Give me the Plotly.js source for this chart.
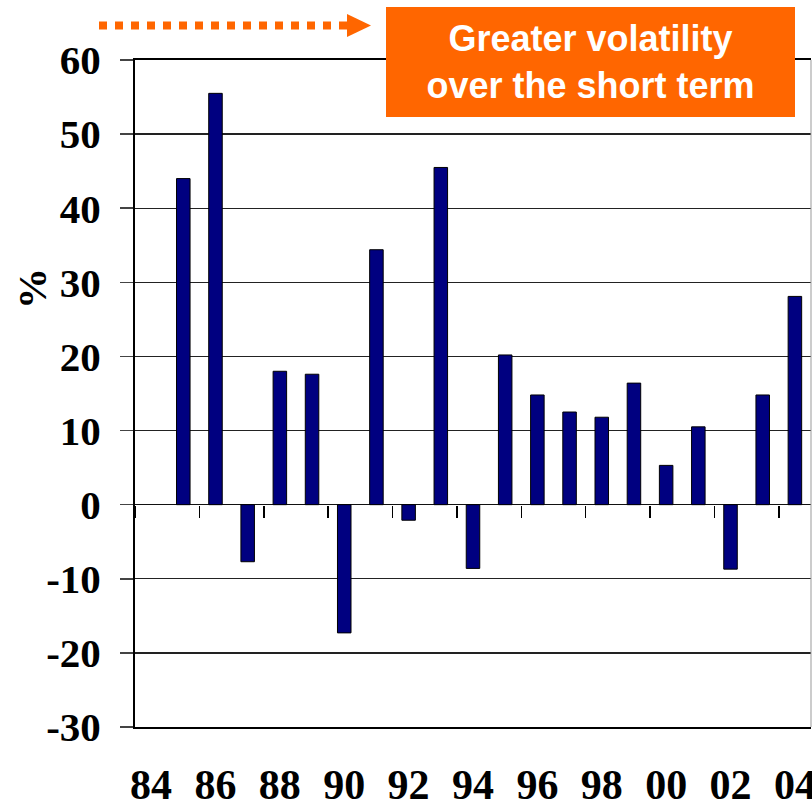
<!DOCTYPE html>
<html><head><meta charset="utf-8">
<script src="https://cdn.plot.ly/plotly-3.0.1.min.js"></script>
<style>html,body{margin:0;padding:0;background:#fff}#chart{width:812px;height:810px}</style>
</head><body><div id="chart"></div>
<script>
// ---- data ----
const years = [1984,1985,1986,1987,1988,1989,1990,1991,1992,1993,1994,1995,1996,1997,1998,1999,2000,2001,2002,2003,2004];
const returns = [null,44,55.5,-7.7,18,17.6,-17.3,34.4,-2.1,45.5,-8.6,20.2,14.8,12.5,11.8,16.4,5.3,10.5,-8.7,14.8,28.1];
const labelYears = [1984,1986,1988,1990,1992,1994,1996,1998,2000,2002,2004];
const labelText = ['84','86','88','90','92','94','96','98','00','02','04'];
const yTicks = [-30,-20,-10,0,10,20,30,40,50,60];
const yTickText = ['-30','-20','-10','0','10','20','30','40','50','60'];
const calloutText = 'Greater volatility<br>over the short term';
const yTitle = '%';

// ---- layout helpers (page pixels -> paper fraction) ----
const W = 812, H = 810, L = 135, R = 1, T = 60, B = 83;
const pw = W - L - R, ph = H - T - B;
const px = x => (x - L) / pw;
const py = y => (H - B - y) / ph;
const tickYears = labelYears.map(y => y - 0.5);
const xr = [years[0] - 0.5, years[years.length - 1] + 0.5];
const serif = {family: 'Liberation Serif, Times New Roman, serif', weight: 'bold', color: '#000'};
const orange = '#FF6600';

const traces = [
  {type: 'bar', x: years, y: returns, marker: {color: '#000080', line: {color: '#000', width: 1}}, hoverinfo: 'x+y'},
  {type: 'scatter', x: [years[0]], y: [null], xaxis: 'x2', mode: 'markers', showlegend: false, hoverinfo: 'skip'}
];

const layout = {
  width: W, height: H,
  margin: {l: L, r: R, t: T, b: B, pad: 0},
  paper_bgcolor: '#fff', plot_bgcolor: '#fff',
  showlegend: false,
  bargap: 0.58,
  xaxis: {
    range: xr, tickmode: 'array', tickvals: labelYears, ticktext: labelText,
    ticks: '', showgrid: false, zeroline: false,
    showline: true, mirror: true, linecolor: '#000', linewidth: 2,
    ticklabelstandoff: 20, ticklabeloverflow: 'allow',
    tickfont: Object.assign({size: 42}, serif)
  },
  xaxis2: {
    overlaying: 'x', anchor: 'free', position: 30 / 90, range: xr,
    tickmode: 'array', tickvals: tickYears, ticks: 'outside', ticklen: 12, tickwidth: 1.5, tickcolor: '#000',
    showticklabels: false, showline: false, showgrid: false, zeroline: false
  },
  yaxis: {
    range: [-30, 60], tickmode: 'array', tickvals: yTicks, ticktext: yTickText,
    showgrid: true, gridcolor: '#222', gridwidth: 1.3,
    zeroline: true, zerolinecolor: '#111', zerolinewidth: 1.5,
    showline: true, linecolor: '#000', linewidth: 2,
    ticks: 'outside', ticklen: 13, tickcolor: '#444', tickwidth: 1.5,
    ticklabelstandoff: 11,
    tickfont: Object.assign({size: 41}, serif)
  },
  shapes: [
    {type: 'line', xref: 'paper', yref: 'paper', x0: 1, x1: 1, y0: 0, y1: 1, line: {color: '#999', width: 1}},
    {type: 'line', xref: 'paper', yref: 'paper', x0: px(99), x1: px(347), y0: py(25.5), y1: py(25.5),
     line: {color: orange, width: 8, dash: '8px,8px'}},
    {type: 'path', xref: 'paper', yref: 'paper', fillcolor: orange, line: {width: 0},
     path: `M ${px(347)},${py(14)} L ${px(371)},${py(25.5)} L ${px(347)},${py(37)} Z`}
  ],
  annotations: [
    {xref: 'paper', yref: 'paper', x: px(590.5), y: py(62), xanchor: 'center', yanchor: 'middle',
     text: calloutText, showarrow: false, bgcolor: orange, borderpad: 0, borderwidth: 0,
     width: 409, height: 110, align: 'center',
     font: {family: 'Liberation Sans, Arial, sans-serif', size: 36, weight: 'bold', color: '#fff'}},
    {xref: 'paper', yref: 'paper', x: px(32), y: py(289), xanchor: 'center', yanchor: 'middle',
     text: yTitle, textangle: -90, showarrow: false,
     font: Object.assign({size: 41}, serif)}
  ]
};

Plotly.newPlot('chart', traces, layout, {displayModeBar: false, staticPlot: true});
</script>
</body></html>
